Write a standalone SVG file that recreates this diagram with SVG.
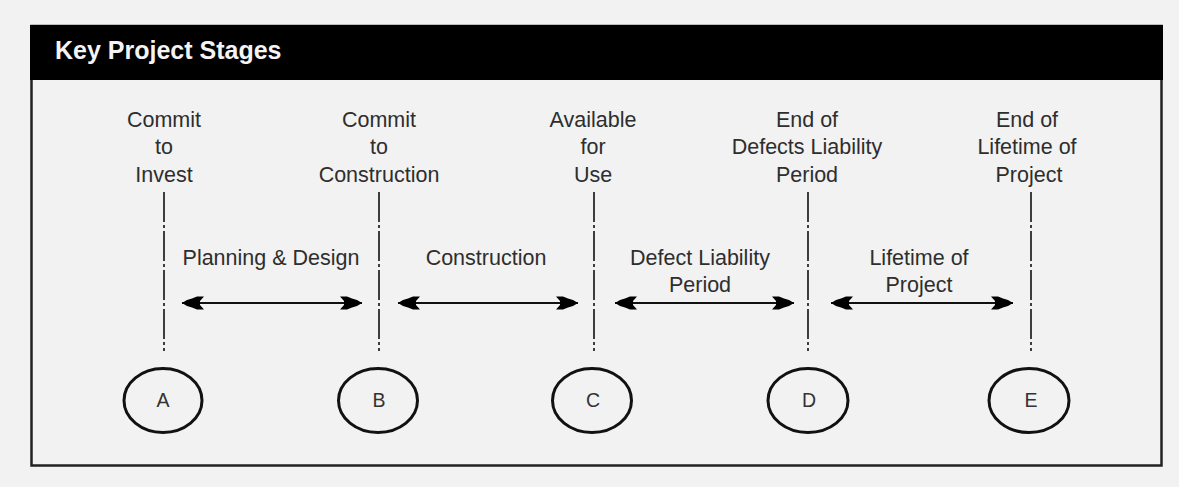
<svg xmlns="http://www.w3.org/2000/svg" width="1179" height="487" viewBox="0 0 1179 487">
  <style>
    .lbl { font-family: "Liberation Sans", Arial, sans-serif; font-size: 21.5px; fill: #2e2e2e; text-anchor: middle; }
    .ltr { font-family: "Liberation Sans", Arial, sans-serif; font-size: 19.5px; fill: #333; text-anchor: middle; }
    .title { font-family: "Liberation Sans", Arial, sans-serif; font-size: 25px; font-weight: bold; fill: #f4f4f4; }
    .stage { fill: none; stroke: #111; stroke-width: 3; }
    .mark { stroke: #111; stroke-width: 1.6; stroke-dasharray: 30 3 3 3; fill: none; }
    .span { stroke: #111; stroke-width: 1.8; fill: none; marker-start: url(#head); marker-end: url(#head); }
  </style>
  <defs>
    <!-- stepped, filled arrowhead; points along the path direction -->
    <marker id="head" viewBox="-23 -7 24 14" refX="0" refY="0" markerWidth="24" markerHeight="14" markerUnits="userSpaceOnUse" orient="auto-start-reverse">
      <polygon points="0,0 -5,-3 -10,-4.5 -15,-6.5 -22,-6.5 -18,-2 -18,2 -22,6.5 -15,6.5 -10,4.5 -5,3" fill="#000"/>
    </marker>
  </defs>

  <!-- page -->
  <rect x="0" y="0" width="1179" height="487" fill="#f2f2f2"/>

  <!-- frame with black header bar -->
  <rect x="31.5" y="26" width="1130" height="439.5" fill="#f2f2f2" stroke="#222" stroke-width="2.5"/>
  <rect x="30" y="25" width="1133" height="55" fill="#000"/>
  <text class="title" x="55" y="59">Key Project Stages</text>

  <!-- milestone markers and spans -->
  <g id="connectors">
    <line class="mark" x1="164" y1="192" x2="164" y2="351"/>
    <line class="mark" x1="379" y1="192" x2="379" y2="351"/>
    <line class="mark" x1="594" y1="192" x2="594" y2="351"/>
    <line class="mark" x1="808" y1="192" x2="808" y2="351"/>
    <line class="mark" x1="1031" y1="192" x2="1031" y2="351"/>

    <line class="span" x1="182" y1="303" x2="362" y2="303"/>
    <line class="span" x1="398" y1="303" x2="578" y2="303"/>
    <line class="span" x1="615" y1="303" x2="794" y2="303"/>
    <line class="span" x1="831" y1="303" x2="1013" y2="303"/>
  </g>

  <!-- span labels -->
  <g id="span-labels">
    <text class="lbl" x="271" y="265">Planning &amp; Design</text>
    <text class="lbl" x="486" y="265">Construction</text>
    <text class="lbl" x="700" y="265">Defect Liability</text>
    <text class="lbl" x="700" y="292">Period</text>
    <text class="lbl" x="919" y="265">Lifetime of</text>
    <text class="lbl" x="919" y="292">Project</text>
  </g>

  <g id="stage-a">
    <text class="lbl" x="164" y="127">Commit</text>
    <text class="lbl" x="164" y="154">to</text>
    <text class="lbl" x="164" y="182">Invest</text>
    <ellipse class="stage" cx="163" cy="400.5" rx="39" ry="32"/>
    <text class="ltr" x="163" y="407">A</text>
  </g>

  <g id="stage-b">
    <text class="lbl" x="379" y="127">Commit</text>
    <text class="lbl" x="379" y="154">to</text>
    <text class="lbl" x="379" y="182">Construction</text>
    <ellipse class="stage" cx="378" cy="400.5" rx="39.5" ry="32"/>
    <text class="ltr" x="379" y="407">B</text>
  </g>

  <g id="stage-c">
    <text class="lbl" x="593" y="127">Available</text>
    <text class="lbl" x="593" y="154">for</text>
    <text class="lbl" x="593" y="182">Use</text>
    <ellipse class="stage" cx="592" cy="400.5" rx="39.5" ry="32"/>
    <text class="ltr" x="593" y="407">C</text>
  </g>

  <g id="stage-d">
    <text class="lbl" x="807" y="127">End of</text>
    <text class="lbl" x="807" y="154">Defects Liability</text>
    <text class="lbl" x="807" y="182">Period</text>
    <ellipse class="stage" cx="808" cy="400.5" rx="40" ry="32"/>
    <text class="ltr" x="809" y="407">D</text>
  </g>

  <g id="stage-e">
    <text class="lbl" x="1027" y="127">End of</text>
    <text class="lbl" x="1027" y="154">Lifetime of</text>
    <text class="lbl" x="1029" y="182">Project</text>
    <ellipse class="stage" cx="1029" cy="400.5" rx="40" ry="32"/>
    <text class="ltr" x="1031" y="407">E</text>
  </g>
</svg>
